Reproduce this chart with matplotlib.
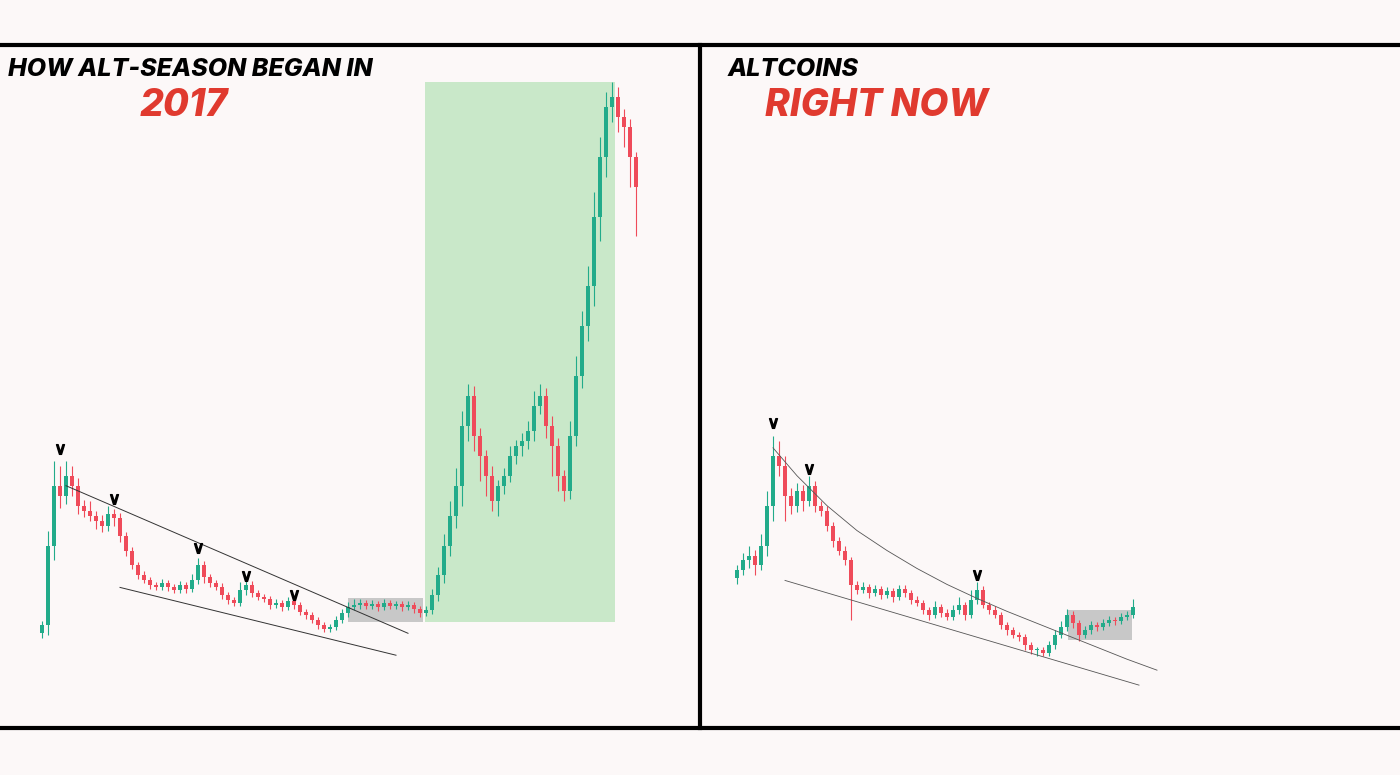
import matplotlib.pyplot as plt
from matplotlib.patches import Rectangle
import numpy as np

# ---- data (price units are arbitrary) ----
left_close = [150, 230, 290, 280, 300, 290, 270, 265, 260, 255,
              250, 262, 258, 240, 225, 210, 200, 195, 190, 188,
              192, 188, 185, 190, 186, 195, 210, 198, 192, 188,
              180, 175, 172, 185, 190, 182, 178, 176, 170, 172,
              168, 174, 170, 163, 160, 155, 150, 146, 148, 155,
              162, 168, 170, 172, 169, 171, 168, 172, 169, 171,
              168, 170, 166, 162, 165, 180, 200, 230, 260, 290,
              350, 380, 340, 320, 300, 275, 290, 300, 320, 330,
              335, 345, 370, 380, 350, 330, 300, 285, 340, 400,
              450, 490, 560, 620, 670, 680, 660, 650, 620, 590]
left_wick_hi = [4, 15, 25, 20, 15, 10, 8, 6, 10, 5,
                6, 8, 5, 5, 4, 4, 3, 4, 3, 3,
                4, 3, 3, 4, 3, 6, 8, 4, 3, 3,
                4, 3, 3, 8, 6, 4, 3, 3, 3, 4,
                3, 4, 3, 3, 3, 3, 3, 3, 3, 4,
                4, 5, 6, 4, 3, 4, 3, 4, 3, 3,
                3, 4, 3, 3, 4, 6, 8, 12, 15, 18,
                15, 12, 10, 8, 6, 10, 6, 8, 10, 6,
                8, 10, 15, 12, 8, 10, 8, 6, 15, 20,
                15, 20, 25, 20, 15, 15, 10, 8, 8, 5]
left_wick_lo = [5, 10, 15, 12, 8, 10, 8, 6, 5, 8,
                6, 5, 8, 6, 5, 4, 4, 3, 4, 3,
                3, 4, 3, 3, 4, 3, 4, 6, 4, 3,
                4, 4, 3, 3, 5, 4, 3, 3, 4, 3,
                4, 3, 4, 3, 4, 3, 4, 3, 3, 3,
                3, 4, 3, 4, 3, 3, 4, 3, 3, 3,
                4, 3, 4, 4, 3, 4, 6, 8, 10, 12,
                20, 15, 15, 25, 20, 10, 15, 8, 6, 8,
                10, 8, 10, 8, 12, 30, 15, 10, 8, 10,
                12, 15, 20, 25, 20, 15, 15, 20, 30, 50]

right_close = [205, 215, 220, 210, 230, 270, 320, 310, 280, 270,
               285, 275, 290, 270, 265, 250, 235, 225, 215, 190,
               185, 188, 182, 186, 180, 184, 178, 186, 182, 175,
               172, 165, 160, 168, 162, 158, 165, 170, 160, 175,
               185, 170, 165, 160, 150, 145, 140, 138, 130, 125,
               125, 122, 130, 140, 148, 160, 152, 140, 145, 150,
               148, 152, 155, 154, 158, 160, 168]
right_wick_hi = [5, 8, 10, 6, 12, 15, 20, 15, 10, 8,
                 8, 6, 10, 5, 5, 5, 4, 4, 5, 4,
                 4, 5, 3, 4, 3, 4, 3, 4, 4, 3,
                 4, 3, 3, 6, 3, 4, 5, 8, 3, 10,
                 8, 4, 3, 4, 3, 3, 3, 3, 3, 3,
                 3, 3, 4, 5, 6, 6, 4, 3, 4, 4,
                 3, 4, 4, 3, 4, 4, 8]
right_wick_lo = [6, 5, 8, 10, 5, 10, 15, 10, 25, 8,
                 6, 10, 5, 6, 5, 5, 6, 4, 5, 35,
                 4, 3, 5, 3, 4, 3, 5, 3, 4, 4,
                 3, 4, 5, 3, 4, 3, 3, 4, 5, 3,
                 4, 3, 4, 3, 4, 5, 3, 4, 5, 4,
                 6, 3, 3, 4, 3, 4, 5, 6, 3, 4,
                 4, 3, 3, 4, 3, 3, 3]

# annotation lines, (candle index, price)
left_upper = ([4, 61], [290, 142])
left_lower = ([13, 59], [188, 120])
right_upper = ([6, 10, 15, 20, 25, 30, 35, 40, 45, 50, 55, 60, 65, 70],
               [328, 300, 270, 245, 225, 207, 191, 177, 164, 152, 140, 128, 116, 105])
right_lower = ([8, 67], [195, 90])
left_marks = [(3, 327), (12, 277), (26, 228), (34, 199), (42, 180)]
right_marks = [(6, 353), (12, 307), (40, 200)]

UP, DOWN = "#22ab8a", "#ef4b5a"
BG = "#fcf8f8"


def candles(ax, closes, whi, wlo):
    opens = [closes[0] - 8] + closes[:-1]
    for i, (o, c, h, l) in enumerate(zip(opens, closes, whi, wlo)):
        col = UP if c >= o else DOWN
        top, bot = max(o, c), min(o, c)
        ax.vlines(i, bot - l, top + h, color=col, lw=0.8, zorder=3)
        ax.add_patch(Rectangle((i - 0.35, bot), 0.7, max(top - bot, 1.5),
                               color=col, zorder=4, lw=0))


def chevrons(ax, marks):
    xs, ys = zip(*marks)
    ax.plot(xs, ys, ls="none", marker=r"$\vee$", ms=7, color="black", zorder=6)


fig = plt.figure(figsize=(14, 7.75), dpi=100, facecolor=BG)

# left panel: pixel x 0-698, y 45-728 ; candle i at x = 42 + 6 i, price = 775 - y
axl = fig.add_axes([0, 47 / 775, 698 / 1400, 681 / 775])
axl.set_xlim(-7, 656 / 6)
axl.set_ylim(775 - 728, 775 - 45)
axl.axis("off")
axl.add_patch(Rectangle((385 / 6 - 0.3, 153), 190 / 6, 542, color="#c9e8c9", zorder=1, lw=0))
axl.add_patch(Rectangle((308 / 6 - 0.3, 153), 75 / 6, 24, color="#c8c8c8", zorder=2, lw=0))
candles(axl, left_close, left_wick_hi, left_wick_lo)
axl.plot(*left_upper, color="#333", lw=0.7, zorder=5)
axl.plot(*left_lower, color="#333", lw=0.7, zorder=5)
chevrons(axl, left_marks)

# right panel: candle i at x = 737 + 6 i
axr = fig.add_axes([702 / 1400, 47 / 775, 698 / 1400, 681 / 775])
axr.set_xlim(-35 / 6, 663 / 6)
axr.set_ylim(775 - 728, 775 - 45)
axr.axis("off")
axr.add_patch(Rectangle((331 / 6, 135), 64 / 6, 30, color="#c8c8c8", zorder=2, lw=0))
candles(axr, right_close, right_wick_hi, right_wick_lo)
axr.plot(*right_upper, color="#555", lw=0.6, zorder=5)
axr.plot(*right_lower, color="#555", lw=0.6, zorder=5)
chevrons(axr, right_marks)

# frame + titles in pixel coords
ov = fig.add_axes([0, 0, 1, 1], facecolor="none")
ov.set_xlim(0, 1400)
ov.set_ylim(775, 0)
ov.axis("off")
ov.plot([0, 1400], [45, 45], color="black", lw=3)
ov.plot([0, 1400], [728, 728], color="black", lw=3)
ov.plot([700, 700], [45, 728], color="black", lw=3)
kw = dict(fontweight="heavy", style="italic", family="Inter", va="center")
ov.text(8, 70, "HOW ALT-SEASON BEGAN IN", fontsize=18, color="black", **kw)
ov.text(140, 106, "2017", fontsize=27, color="#e03a2f", **kw)
ov.text(728, 70, "ALTCOINS", fontsize=18, color="black", **kw)
ov.text(765, 106, "RIGHT NOW", fontsize=27, color="#e03a2f", **kw)

fig.savefig("out.png", dpi=100, facecolor=BG)
